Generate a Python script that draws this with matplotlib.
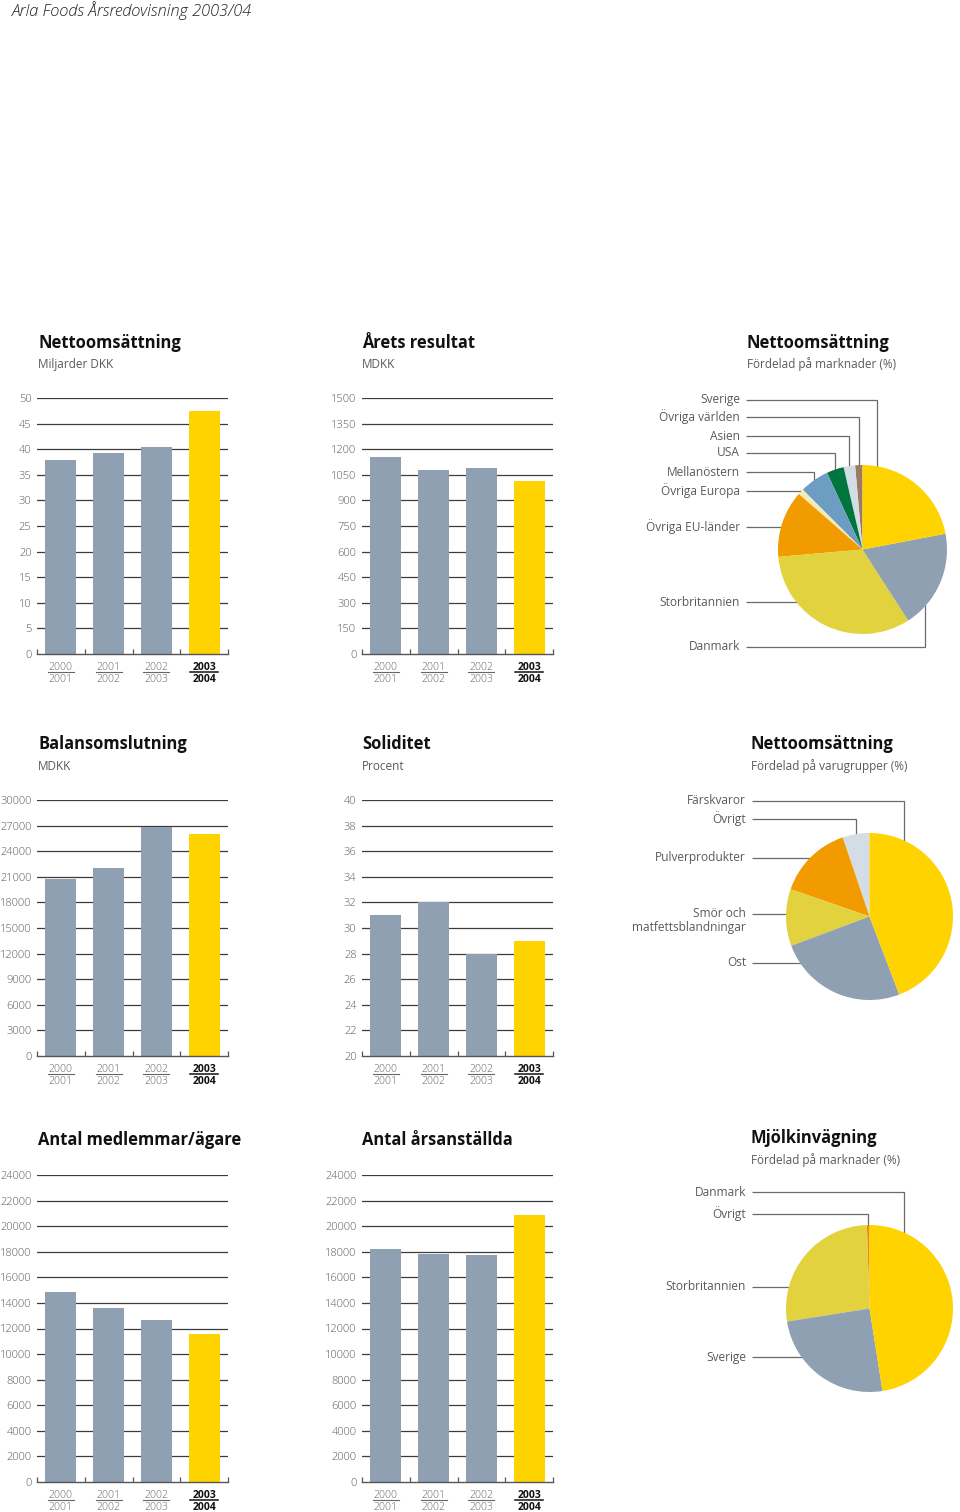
import matplotlib
matplotlib.use('Agg')
import matplotlib.pyplot as plt
import matplotlib.transforms as mtransforms
import numpy as np

plt.rcParams['font.family'] = ['Open Sans', 'DejaVu Sans']

W, H, DPI = 960, 1512, 100

# ---------------- data ----------------
years_top = ['2000', '2001', '2002', '2003']
years_bottom = ['2001', '2002', '2003', '2004']

nettoomsattning = [37.9, 39.3, 40.5, 47.5]        # Miljarder DKK
arets_resultat = [1155, 1080, 1090, 1015]         # MDKK
balansomslutning = [20800, 22000, 26800, 26000]   # MDKK
soliditet = [31, 32, 28, 29]                      # Procent
medlemmar = [14850, 13600, 12700, 11600]
arsanstallda = [18200, 17800, 17750, 20850]

# pie slices, counter-clockwise from 12 o'clock
market_labels = ['Övriga världen', 'Asien', 'USA', 'Mellanöstern', 'Övriga Europa',
                 'Övriga EU-länder', 'Storbritannien', 'Danmark', 'Sverige']
market_shares = [1.4, 2.2, 3.3, 5.6, 1.1, 12.8, 32.7, 18.9, 22.0]

product_labels = ['Övrigt', 'Pulverprodukter', 'Smör och\nmatfettsblandningar', 'Ost', 'Färskvaror']
product_shares = [5.2, 14.5, 11.0, 25.1, 44.2]

milk_labels = ['Övrigt', 'Storbritannien', 'Sverige', 'Danmark']
milk_shares = [0.5, 27.0, 25.0, 47.5]

# ---------------- styles ----------------
GREY = '#8FA0B3'
YELLOW = '#FFD300'
GRID = '#3C3C3C'
TXT = '#5A5A5A'

market_colors = ['#9C7A60', '#D4DCE6', '#00753D', '#6E9DC4', '#F3ECB6',
                 '#F29B00', '#E1D23E', '#8FA0B3', '#FFD300']
product_colors = ['#D4DCE6', '#F29B00', '#E1D23E', '#8FA0B3', '#FFD300']
milk_colors = ['#EE8A00', '#E1D23E', '#8FA0B3', '#FFD300']

fig = plt.figure(figsize=(W / DPI, H / DPI), dpi=DPI)
fig.patch.set_facecolor('white')


def bar_panel(x0, ytop, ybot, values, ymin, ymax, step):
    ax = fig.add_axes([x0 / W, 1 - ybot / H, 191 / W, (ybot - ytop) / H])
    x = np.arange(len(values))
    cols = [GREY] * (len(values) - 1) + [YELLOW]
    ax.bar(x, values, width=0.65, color=cols, zorder=2, linewidth=0)
    ax.set_xlim(-0.5, len(values) - 0.5)
    ax.set_ylim(ymin, ymax)
    ticks = np.arange(ymin, ymax + step / 2, step)
    ax.set_yticks(ticks)
    ax.set_yticklabels([f'{int(t)}' for t in ticks])
    for t in ticks[1:]:
        ax.axhline(t, color=GRID, lw=0.9, zorder=1)
    for s in ['top', 'right', 'left']:
        ax.spines[s].set_visible(False)
    ax.spines['bottom'].set_color('#555555')
    ax.spines['bottom'].set_linewidth(1.0)
    ax.spines['bottom'].set_zorder(3)
    ax.set_xticks(np.arange(-0.5, len(values), 1.0))
    ax.set_xticklabels([])
    ax.tick_params(axis='x', direction='in', length=3.5, width=0.9, color='#555555')
    ax.tick_params(axis='y', length=0, pad=4, labelsize=8, labelcolor=TXT)
    for lab in ax.get_yticklabels():
        lab.set_fontweight('light')
    base = mtransforms.blended_transform_factory(ax.transData, ax.transAxes)
    for i in range(len(values)):
        last = i == len(values) - 1
        col = '#111111' if last else '#666666'
        wt = 'bold' if last else 'light'
        ax.text(i, 0, years_top[i], transform=base + mtransforms.ScaledTranslation(0, -15.5 / DPI, fig.dpi_scale_trans),
                ha='center', va='baseline', fontsize=7.5, color=col, fontweight=wt)
        ax.text(i, 0, years_bottom[i], transform=base + mtransforms.ScaledTranslation(0, -28 / DPI, fig.dpi_scale_trans),
                ha='center', va='baseline', fontsize=7.5, color=col, fontweight=wt)
        hw = 0.29 if last else 0.27
        ax.plot([i - hw, i + hw], [0, 0], color=col, lw=1.1 if last else 0.8, clip_on=False,
                transform=base + mtransforms.ScaledTranslation(0, -18 / DPI, fig.dpi_scale_trans))
    return ax


def title(x, ybase, text, sub=None, sub_base=None):
    fig.text(x / W, 1 - ybase / H, text, fontsize=11.9, fontweight='bold', color='#111111', va='baseline')
    if sub:
        fig.text(x / W, 1 - sub_base / H, sub, fontsize=8.5, color=TXT, va='baseline')


# header
fig.text(12 / W, 1 - 16 / H, 'Arla Foods Årsredovisning 2003/04', fontsize=11.8, style='italic',
         fontweight='light', color='#222222', va='baseline')

# row 1
title(38, 348, 'Nettoomsättning', 'Miljarder DKK', 368)
title(362, 348, 'Årets resultat', 'MDKK', 368)
title(747, 348, 'Nettoomsättning', 'Fördelad på marknader (%)', 368)
bar_panel(37, 398, 654, nettoomsattning, 0, 50, 5)
bar_panel(362, 398, 654, arets_resultat, 0, 1500, 150)

# row 2
title(38, 749, 'Balansomslutning', 'MDKK', 770)
title(362, 749, 'Soliditet', 'Procent', 770)
title(751, 749, 'Nettoomsättning', 'Fördelad på varugrupper (%)', 770)
bar_panel(37, 800, 1056, balansomslutning, 0, 30000, 3000)
bar_panel(362, 800, 1056, soliditet, 20, 40, 2)

# row 3
title(38, 1145, 'Antal medlemmar/ägare')
title(362, 1145, 'Antal årsanställda')
title(751, 1143, 'Mjölkinvägning', 'Fördelad på marknader (%)', 1164)
bar_panel(37, 1175, 1482, medlemmar, 0, 24000, 2000)
bar_panel(362, 1175, 1482, arsanstallda, 0, 24000, 2000)

# ---------------- pies on a pixel overlay ----------------
ov = fig.add_axes([0, 0, 1, 1], zorder=-1)
ov.axis('off')


def pie_panel(labels, shares, colors, cx, cy, r, label_x, label_y, anchors):
    wedges, _ = ov.pie(shares, colors=colors, startangle=90, counterclock=True,
                       center=(cx, H - cy), radius=r, wedgeprops=dict(linewidth=0, zorder=3))
    sx = label_x + 6
    for w, lab in zip(wedges, labels):
        ly = label_y[lab]
        anc = anchors.get(lab, 'mid')
        if anc == 'h':
            dy = (cy - ly) / r
            th = np.pi - np.arcsin(dy)
            ex = cx + r * np.cos(th) + 2
            xs, ys = [sx, ex], [ly, ly]
        else:
            th = np.deg2rad((w.theta1 + w.theta2) / 2 if anc == 'mid' else anc)
            ex = cx + r * np.cos(th)
            ey = cy - r * np.sin(th) * 0.97
            xs, ys = [sx, ex, ex], [ly, ly, ey]
        ov.plot(xs, [H - y for y in ys], color='#6A6A6A', lw=0.9, zorder=1,
                solid_joinstyle='miter', solid_capstyle='butt')
        nlines = len(lab.split('\n'))
        ty = ly + (nlines - 1) * 13 / 2
        ov.text(label_x, H - ty, lab, ha='right', va='center', fontsize=8.6, color=TXT,
                linespacing=1.1, multialignment='right')


pie_panel(market_labels, market_shares, market_colors, 862.5, 549.5, 84.5, 740,
          {'Sverige': 400, 'Övriga världen': 417, 'Asien': 436, 'USA': 453,
           'Mellanöstern': 472, 'Övriga Europa': 491, 'Övriga EU-länder': 527,
           'Storbritannien': 602, 'Danmark': 647},
          {'Sverige': 80.4, 'Danmark': -42.4, 'Övriga EU-länder': 'h', 'Storbritannien': 'h'})

pie_panel(product_labels, product_shares, product_colors, 869.5, 916.5, 83.5, 746,
          {'Färskvaror': 801, 'Övrigt': 819, 'Pulverprodukter': 858,
           'Smör och\nmatfettsblandningar': 914, 'Ost': 963},
          {'Färskvaror': 65.8, 'Pulverprodukter': 'h', 'Smör och\nmatfettsblandningar': 'h', 'Ost': 'h'})

pie_panel(milk_labels, milk_shares, milk_colors, 869.5, 1308.5, 83.5, 746,
          {'Danmark': 1192, 'Övrigt': 1214, 'Storbritannien': 1287, 'Sverige': 1357},
          {'Danmark': 65.8, 'Storbritannien': 'h', 'Sverige': 'h'})

ov.set_xlim(0, W)
ov.set_ylim(0, H)
ov.set_aspect('auto')

fig.savefig('out.png', dpi=DPI, facecolor='white')
